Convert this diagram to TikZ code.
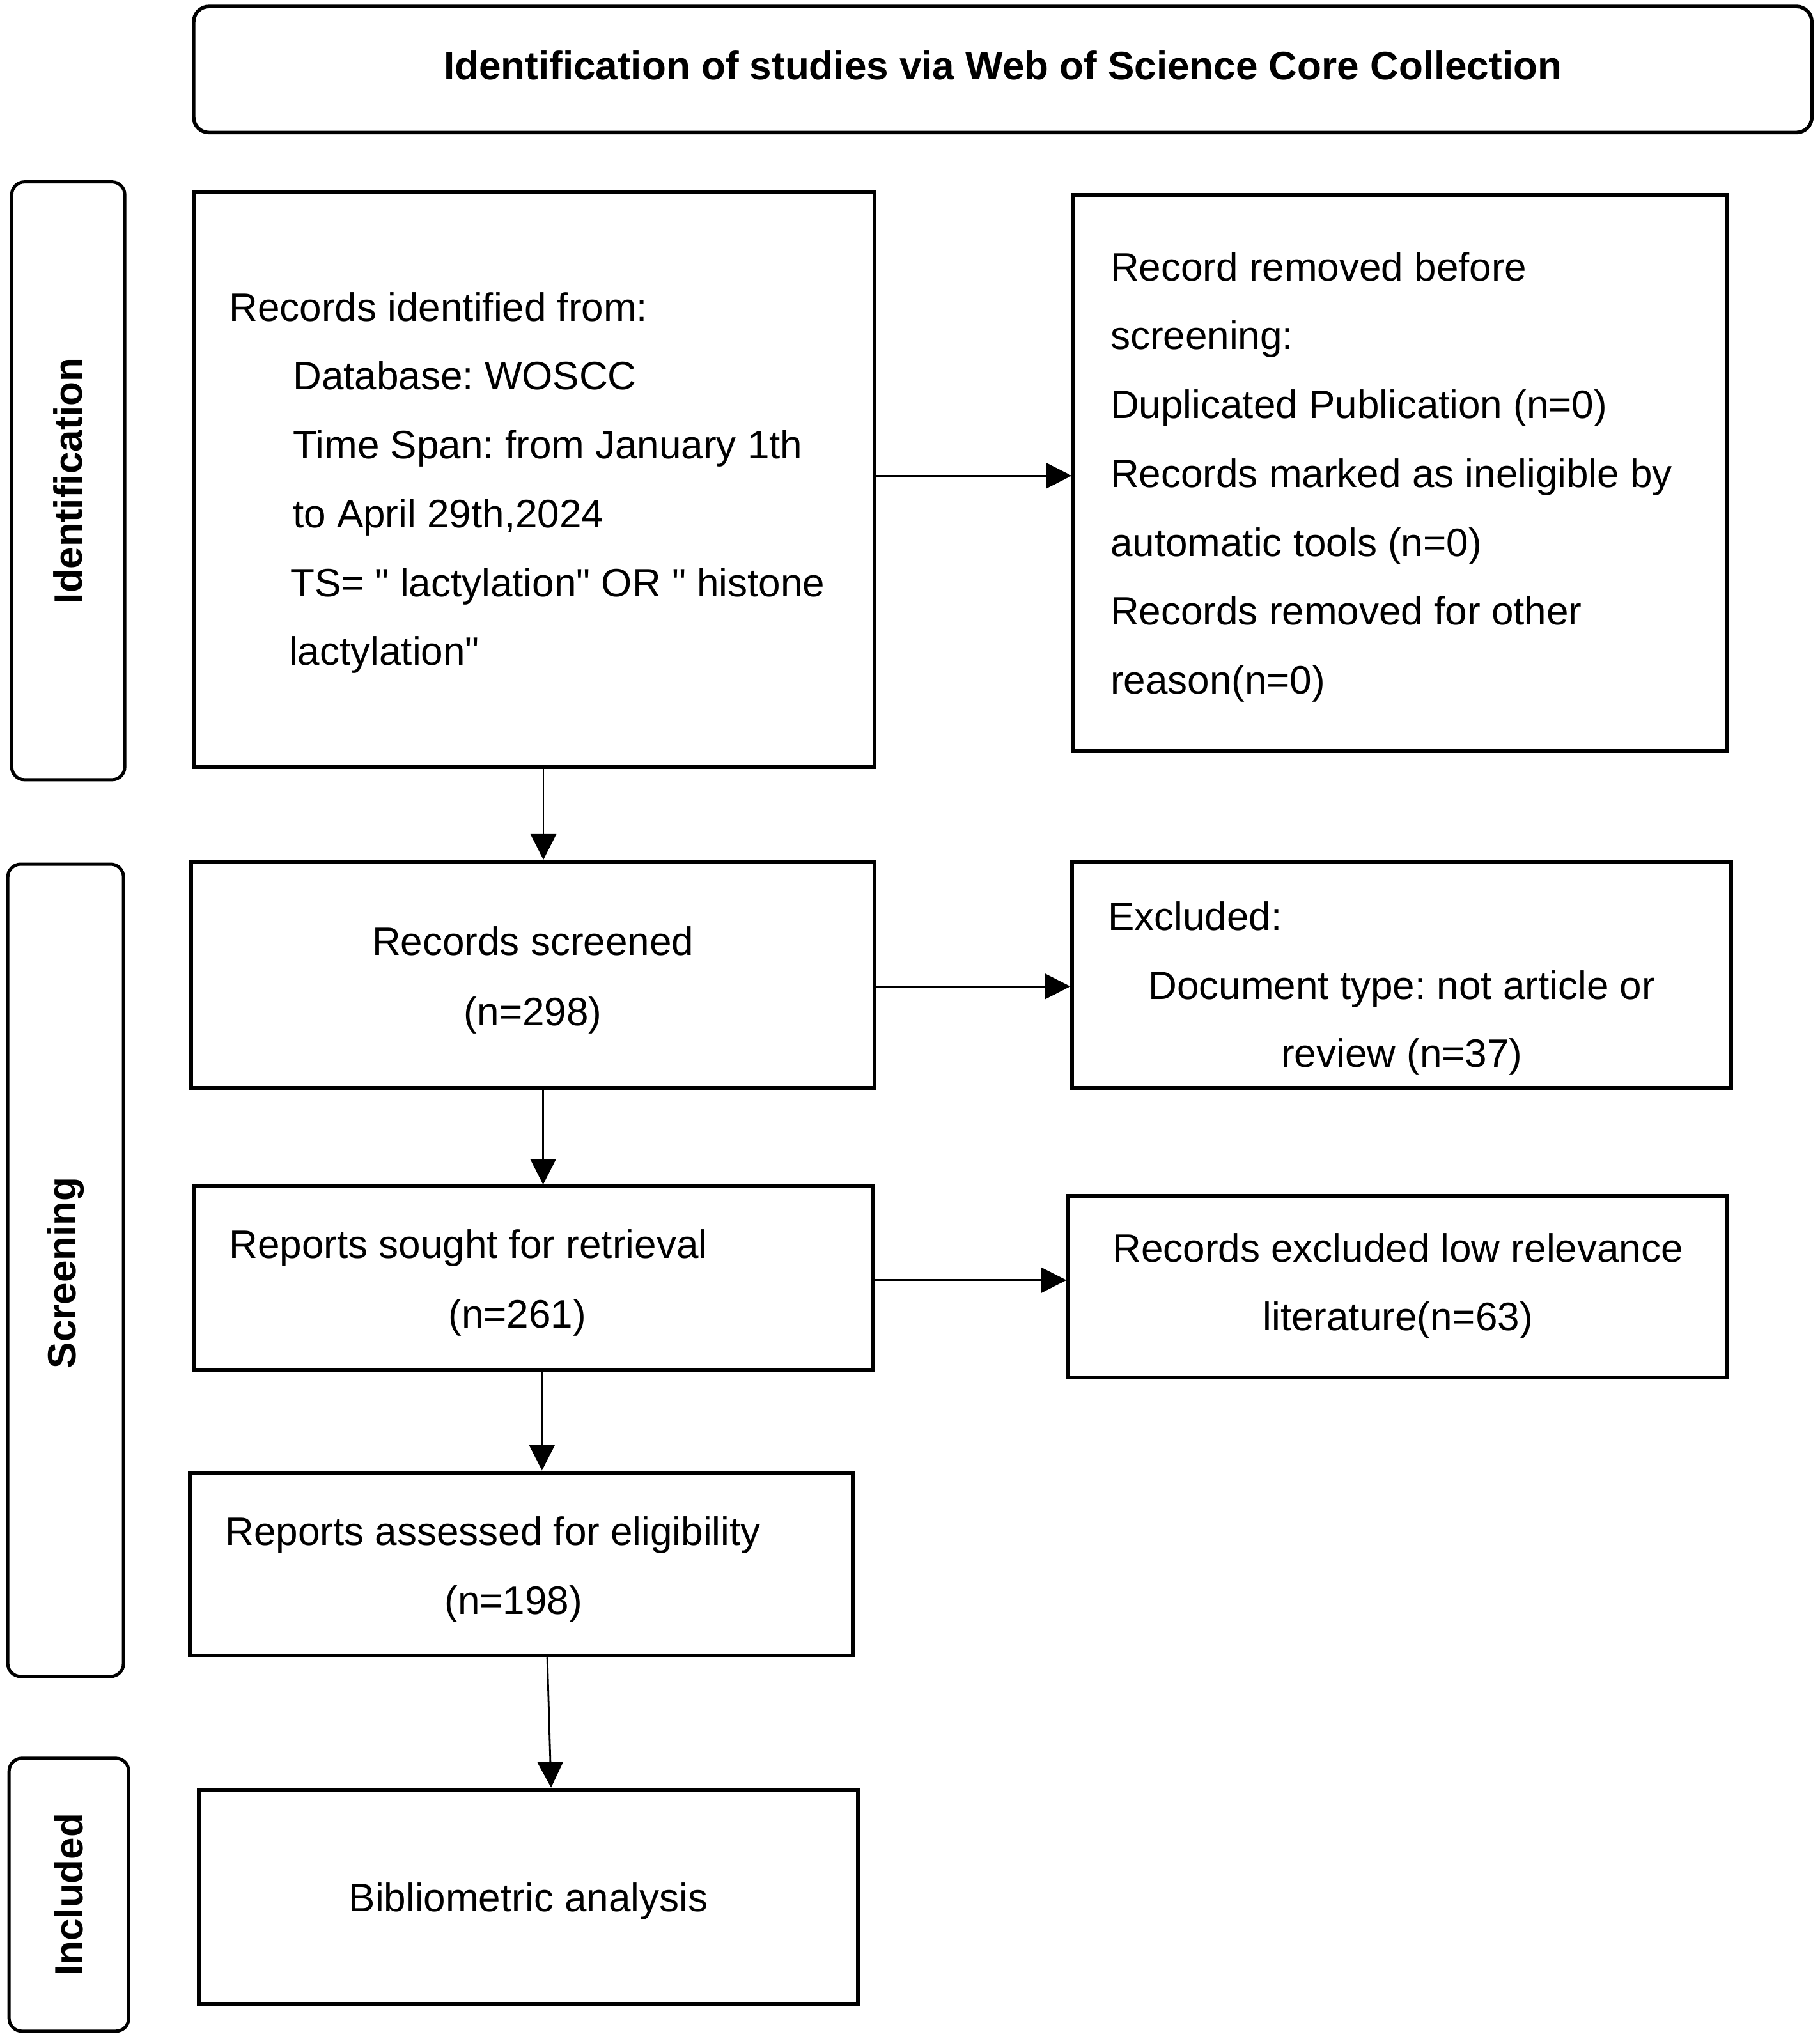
\documentclass[tikz,border=0pt]{standalone}
\usepackage{fontspec}
\setmainfont{Liberation Sans}
\usetikzlibrary{arrows.meta,fit}
\frenchspacing
\begin{document}
\begin{tikzpicture}[x=0.5083pt,y=-0.5083pt,
  box/.style={draw=black,line width=1.5pt,inner sep=0pt,rectangle},
  rbox/.style={draw=black,line width=1.4pt,inner sep=0pt,rectangle,rounded corners=6pt},
  side/.style={draw=black,line width=1.25pt,inner sep=0pt,rectangle,rounded corners=5pt},
  lt/.style={inner sep=0pt,anchor=base west,font=\fontsize{15.5}{18}\selectfont},
  ct/.style={inner sep=0pt,anchor=base,font=\fontsize{15.5}{18}\selectfont},
  sidelabel/.style={inner sep=0pt,rotate=90,font=\fontsize{15.5}{18}\selectfont\bfseries},
  arr/.style={line width=0.7pt,-{Triangle[length=10pt,width=10pt]}}]
\useasboundingbox (0,0) rectangle (1400,1569);
% title
\node[rbox,fit={(149,5) (1394,102)}] (title) {};
\node[inner sep=0pt,font=\fontsize{15.5}{18}\selectfont\bfseries,anchor=base] (ttext) at (771.5,61) {Identification of studies via Web of Science Core Collection};
% side boxes
\node[side,fit={(9,140) (96,600)}] (sideI) {};
\node[sidelabel] (lI) at (sideI.center) {Identification};
\node[side,fit={(6,665) (95,1290)}] (sideS) {};
\node[sidelabel,xshift=-1pt] (lS) at (sideS.center) {Screening};
\node[side,fit={(7,1353) (99,1563)}] (sideC) {};
\node[sidelabel] (lC) at (sideC.center) {Included};
% main boxes
\node[box,fit={(149,148) (673,590)}] (b1) {};
\node[box,fit={(826,150) (1329,578)}] (r1) {};
\node[box,fit={(147,663) (673,837)}] (b2) {};
\node[box,fit={(825,663) (1332,837)}] (r2) {};
\node[box,fit={(149,913) (672,1054)}] (b3) {};
\node[box,fit={(822,920) (1329,1060)}] (r3) {};
\node[box,fit={(146,1133) (656,1274)}] (b4) {};
\node[box,fit={(153,1377) (660,1542)}] (b5) {};
% box 1 text
\node[lt] (t11) at (176,247) {Records identified from:};
\node[lt] (t12) at (225,300) {Database: WOSCC};
\node[lt] (t13) at (225,353) {Time Span: from January 1th};
\node[lt] (t14) at (225,406) {to April 29th,2024};
\node[lt] (t15) at (223,459) {TS= \textquotedbl{} lactylation\textquotedbl{} OR \textquotedbl{} histone};
\node[lt] (t16) at (222,512) {lactylation\textquotedbl};
% r1 text
\node[lt] (s11) at (854,216) {Record removed before};
\node[lt] (s12) at (854,269) {screening:};
\node[lt] (s13) at (854,322) {Duplicated Publication (n=0)};
\node[lt] (s14) at (854,375) {Records marked as ineligible by};
\node[lt] (s15) at (854,428) {automatic tools (n=0)};
\node[lt] (s16) at (854,481) {Records removed for other};
\node[lt] (s17) at (854,534) {reason(n=0)};
% box 2
\node[ct] (t21) at (410,735) {Records screened};
\node[ct] (t22) at (410,789) {(n=298)};
% r2
\node[lt] (s21) at (852,716) {Excluded:};
\node[ct] (s22) at (1078.5,769) {Document type: not article or};
\node[ct] (s23) at (1078.5,821) {review (n=37)};
% box 3
\node[lt] (t31) at (176,968) {Reports sought for retrieval};
\node[ct] (t32) at (398,1022) {(n=261)};
% r3
\node[ct] (s31) at (1075.5,971) {Records excluded low relevance};
\node[ct] (s32) at (1075.5,1024) {literature(n=63)};
% box 4
\node[lt] (t41) at (173,1189) {Reports assessed for eligibility};
\node[ct] (t42) at (395,1242) {(n=198)};
% box 5
\node[ct] (t51) at (406.5,1471) {Bibliometric analysis};
% arrows
\draw[arr] ([yshift=1.5pt]b1.east) -- ([yshift=1.5pt]b1.east -| r1.west);
\draw[arr] ([xshift=3.6pt]b1.south) -- ([xshift=3.6pt]b1.south |- b2.north);
\draw[arr] ([yshift=-4.6pt]b2.east) -- ([yshift=-4.6pt]b2.east -| r2.west);
\draw[arr] ([xshift=4pt]b2.south) -- ([xshift=4pt]b2.south |- b3.north);
\draw[arr] ([yshift=-0.8pt]b3.east) -- ([yshift=-0.8pt]b3.east -| r3.west);
\draw[arr] ([xshift=3.3pt]b3.south) -- ([xshift=3.3pt]b3.south |- b4.north);
\draw[arr] ([xshift=10.2pt]b4.south) -- ([xshift=8.9pt]b5.north);
\end{tikzpicture}
\end{document}
